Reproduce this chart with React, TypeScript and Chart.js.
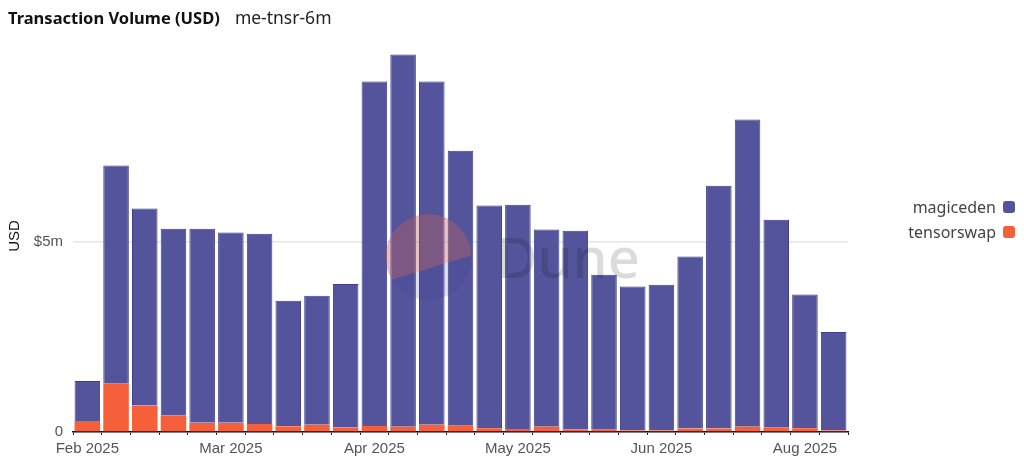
import React, { useEffect, useRef } from "react";
import { Chart, registerables } from "chart.js";

Chart.register(...registerables);

const categories = [
  "2025-02-03", "2025-02-10", "2025-02-17", "2025-02-24", "2025-03-03", "2025-03-10",
  "2025-03-17", "2025-03-24", "2025-03-31", "2025-04-07", "2025-04-14", "2025-04-21",
  "2025-04-28", "2025-05-05", "2025-05-12", "2025-05-19", "2025-05-26", "2025-06-02",
  "2025-06-09", "2025-06-16", "2025-06-23", "2025-06-30", "2025-07-07", "2025-07-14",
  "2025-07-21", "2025-07-28", "2025-08-04",
];

const tickLabels = [
  "Feb 2025", "", "", "", "", "Mar 2025", "", "", "", "", "Apr 2025", "", "", "", "",
  "May 2025", "", "", "", "", "Jun 2025", "", "", "", "", "Aug 2025", "",
];

// values in millions USD
const magiceden = [
  1.05, 5.73, 5.17, 4.9, 5.1, 5.0, 5.0, 3.3, 3.39, 3.77, 9.05, 9.78, 9.02, 7.21,
  5.85, 5.89, 5.18, 5.22, 4.07, 3.78, 3.83, 4.52, 6.38, 8.07, 5.47, 3.51, 2.59,
];
const tensorswap = [
  0.29, 1.27, 0.7, 0.44, 0.24, 0.24, 0.21, 0.15, 0.19, 0.12, 0.16, 0.14, 0.19, 0.18,
  0.1, 0.08, 0.14, 0.07, 0.06, 0.04, 0.04, 0.09, 0.09, 0.14, 0.11, 0.1, 0.04,
];
const yTicks = [0, 5e6];

const ME_COLOR = "#54549c";
const TS_COLOR = "#f5603b";

const watermark = {
  id: "watermark",
  afterDatasetsDraw(chart: any) {
    const { ctx, chartArea } = chart;
    const cx = (chartArea.left + chartArea.right) / 2 - 32;
    const cy = (chartArea.top + chartArea.bottom) / 2 + 21;
    const r = 43;
    ctx.save();
    ctx.beginPath();
    ctx.arc(cx, cy, r, 0, Math.PI * 2);
    ctx.fillStyle = "rgba(60,60,140,0.16)";
    ctx.fill();
    ctx.clip();
    ctx.beginPath();
    ctx.moveTo(cx - r - 5, cy + 26);
    ctx.lineTo(cx + r + 5, cy - 3);
    ctx.lineTo(cx + r + 5, cy - r - 5);
    ctx.lineTo(cx - r - 5, cy - r - 5);
    ctx.closePath();
    ctx.fillStyle = "rgba(245,110,70,0.27)";
    ctx.fill();
    ctx.restore();
    ctx.save();
    ctx.font = '500 56px "Noto Sans"';
    ctx.fillStyle = "rgba(0,0,0,0.14)";
    ctx.textBaseline = "alphabetic";
    ctx.fillText("Dune", cx + 68, cy + 21);
    ctx.restore();
  },
};

export default function App() {
  const ref = useRef<HTMLCanvasElement>(null);

  useEffect(() => {
    if (!ref.current) return;
    const chart = new Chart(ref.current, {
      type: "bar",
      data: {
        labels: categories,
        datasets: [
          {
            label: "tensorswap",
            data: tensorswap.map((v) => v * 1e6),
            backgroundColor: TS_COLOR,
            borderColor: "#f2552f",
            borderWidth: 0,
            barPercentage: 0.89,
            categoryPercentage: 1,
          },
          {
            label: "magiceden",
            data: magiceden.map((v) => v * 1e6),
            backgroundColor: ME_COLOR,
            borderColor: "#3e3e8e",
            borderWidth: 1,
            barPercentage: 0.89,
            categoryPercentage: 1,
          },
        ],
      },
      plugins: [watermark],
      options: {
        animation: false,
        responsive: false,
        maintainAspectRatio: false,
        layout: { padding: { left: 0, right: 176, top: 40, bottom: 0 } },
        plugins: {
          legend: { display: false },
          tooltip: { enabled: false },
        },
        scales: {
          x: {
            stacked: true,
            grid: {
              display: true,
              drawOnChartArea: false,
              drawTicks: true,
              tickLength: 3,
              offset: true,
              color: "#222",
            },
            border: { display: true, color: "#111", width: 1.5 },
            ticks: {
              autoSkip: false,
              maxRotation: 0,
              padding: 5,
              color: "#555",
              font: { family: '"Liberation Sans", Arial, sans-serif', size: 15 },
              callback: (_v: any, i: number) => tickLabels[i],
            },
            afterFit: (scale: any) => {
              scale.height = 31;
            },
          },
          y: {
            stacked: true,
            min: 0,
            max: 10.3e6,
            afterBuildTicks: (axis: any) => {
              axis.ticks = yTicks.map((v) => ({ value: v }));
            },
            grid: {
              color: "#e6e6e6",
              lineWidth: 1.5,
              drawTicks: false,
            },
            border: { display: false },
            ticks: {
              padding: 10,
              color: "#555",
              font: { family: '"Liberation Sans", Arial, sans-serif', size: 15 },
              callback: (v: any) => (v === 0 ? "0" : `$${v / 1e6}m`),
            },
            title: {
              display: true,
              text: "USD",
              color: "#111",
              padding: { top: 6, bottom: 0 },
              font: { family: '"Liberation Sans", Arial, sans-serif', size: 15 },
            },
            afterFit: (scale: any) => {
              scale.width = 73;
            },
          },
        },
      },
    });
    return () => chart.destroy();
  }, []);

  const legendItem = (label: string, color: string) => (
    <div
      style={{
        display: "flex",
        alignItems: "center",
        justifyContent: "flex-end",
        height: 25,
      }}
    >
      <span style={{ color: "#444", fontSize: 16, fontFamily: '"Noto Sans", sans-serif' }}>{label}</span>
      <span
        style={{
          display: "inline-block",
          width: 12,
          height: 12,
          borderRadius: 3,
          background: color,
          marginLeft: 7,
        }}
      />
    </div>
  );

  return (
    <div
      style={{
        position: "fixed",
        left: 0,
        top: 0,
        width: 1024,
        height: 463,
        background: "#fff",
        overflow: "hidden",
      }}
    >
      <canvas ref={ref} width={1024} height={463} style={{ position: "absolute", left: 0, top: 0 }} />
      <div
        style={{
          position: "absolute",
          left: 8,
          top: 5,
          fontFamily: '"Noto Sans", sans-serif',
          whiteSpace: "nowrap",
        }}
      >
        <span style={{ fontWeight: 700, color: "#111", fontSize: 16.5 }}>Transaction Volume (USD)</span>
        <span style={{ color: "#222", marginLeft: 15, fontSize: 17.5 }}>me-tnsr-6m</span>
      </div>
      <div style={{ position: "absolute", right: 9, top: 194 }}>
        {legendItem("magiceden", ME_COLOR)}
        {legendItem("tensorswap", TS_COLOR)}
      </div>
    </div>
  );
}
